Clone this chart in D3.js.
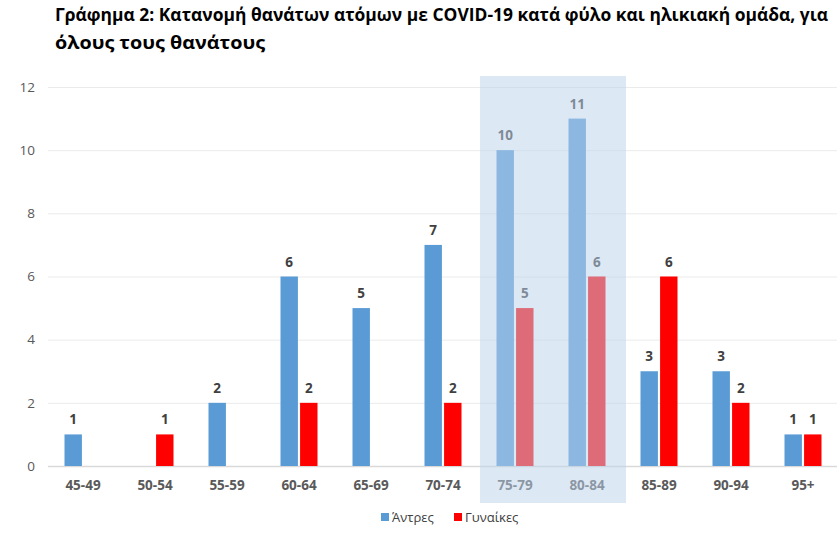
<!DOCTYPE html>
<html>
<head>
<meta charset="utf-8">
<script src="https://cdn.jsdelivr.net/npm/d3@7"></script>
<style>
  body { margin: 0; background: #fff; }
  svg text { font-family: "Open Sans", "Noto Sans", sans-serif; }
</style>
</head>
<body>
<div id="chart"></div>
<script>
var ageGroups = ["45-49", "50-54", "55-59", "60-64", "65-69", "70-74", "75-79", "80-84", "85-89", "90-94", "95+"];
var men   = [1, 0, 2, 6, 5, 7, 10, 11, 3, 3, 1];
var women = [0, 1, 0, 2, 0, 2, 5, 6, 6, 2, 1];
var seriesNames = ["Άντρες", "Γυναίκες"];
var seriesColors = ["#5b9bd5", "#ff0000"];
var yTicks = [0, 2, 4, 6, 8, 10, 12];
var highlighted = ["75-79", "80-84"];
var titleLines = ["Γράφημα 2: Κατανομή θανάτων ατόμων με COVID-19 κατά φύλο και ηλικιακή ομάδα, για", "όλους τους θανάτους"];

var width = 837, height = 549;
var svg = d3.select("#chart").append("svg")
  .attr("width", width)
  .attr("height", height);

// title
svg.selectAll(".title")
  .data(titleLines)
  .enter().append("text")
  .attr("x", 55)
  .attr("y", function(d, i) { return 21 + i * 28; })
  .attr("textLength", function(d, i) { return i == 0 ? 773 : 210; })
  .attr("lengthAdjust", "spacingAndGlyphs")
  .style("font-size", "17px")
  .style("font-weight", "bold")
  .style("fill", "#000")
  .text(function(d) { return d; });

var x0 = d3.scaleBand()
  .domain(ageGroups)
  .range([47, 839])
  .paddingInner(0.486)
  .paddingOuter(0.243);

var x1 = d3.scaleBand()
  .domain(seriesNames)
  .range([0, x0.bandwidth()])
  .paddingInner(0.11);

var y = d3.scaleLinear()
  .domain([0, 12])
  .range([466, 87]);

// gridlines + y labels
var yAxis = d3.axisLeft(y)
  .tickValues(yTicks)
  .tickSize(-(837 - 48))
  .tickPadding(13);
var gy = svg.append("g")
  .attr("transform", "translate(48,0)")
  .call(yAxis);
gy.select(".domain").remove();
gy.selectAll(".tick line")
  .attr("stroke", function(d) { return d == 0 ? "#d9d9d9" : "#ebebeb"; })
  .attr("stroke-width", function(d) { return d == 0 ? 1.5 : 1; });
gy.selectAll(".tick text")
  .style("font-size", "13.5px")
  .style("fill", "#595959");

// x labels
var xAxis = d3.axisBottom(x0).tickSize(0).tickPadding(14);
var gx = svg.append("g")
  .attr("transform", "translate(0,466)")
  .call(xAxis);
gx.select(".domain").remove();
gx.selectAll(".tick text")
  .style("font-size", "13.5px")
  .style("font-weight", "bold")
  .style("fill", "#595959");

var data = ageGroups.map(function(g, i) {
  return { group: g, values: [
    { name: seriesNames[0], value: men[i], color: seriesColors[0] },
    { name: seriesNames[1], value: women[i], color: seriesColors[1] }
  ]};
});

var groups = svg.append("g").selectAll("g")
  .data(data)
  .enter().append("g")
  .attr("transform", function(d) { return "translate(" + x0(d.group) + ",0)"; });

var bars = groups.selectAll("g")
  .data(function(d) { return d.values.filter(function(v) { return v.value > 0; }); })
  .enter().append("g");

bars.append("rect")
  .attr("x", function(d) { return x1(d.name); })
  .attr("y", function(d) { return y(d.value); })
  .attr("width", x1.bandwidth())
  .attr("height", function(d) { return y(0) - y(d.value); })
  .attr("fill", function(d) { return d.color; });

bars.append("text")
  .attr("x", function(d) { return x1(d.name) + x1.bandwidth() / 2; })
  .attr("y", function(d) { return y(d.value) - 10; })
  .attr("text-anchor", "middle")
  .style("font-size", "13.5px")
  .style("font-weight", "bold")
  .style("fill", "#404040")
  .text(function(d) { return d.value; });

// highlight box over 75-84
var hx0 = x0(highlighted[0]) - x0.step() * x0.paddingOuter();
var hx1 = x0(highlighted[1]) + x0.bandwidth() + x0.step() * x0.paddingOuter();
svg.append("rect")
  .attr("x", hx0 + 1)
  .attr("y", 76)
  .attr("width", hx1 - hx0 + 2)
  .attr("height", 503 - 76)
  .attr("fill", "rgb(189,210,235)")
  .attr("fill-opacity", 0.51);

// legend
var legend = svg.append("g").selectAll("g")
  .data(seriesNames)
  .enter().append("g")
  .attr("transform", function(d, i) { return "translate(" + (381 + i * 73) + ",513)"; });
legend.append("rect")
  .attr("width", 8).attr("height", 8)
  .attr("fill", function(d, i) { return seriesColors[i]; });
legend.append("text")
  .attr("x", 11)
  .attr("y", 9)
  .style("font-size", "13px")
  .style("fill", "#404040")
  .text(function(d) { return d; });
</script>
</body>
</html>
